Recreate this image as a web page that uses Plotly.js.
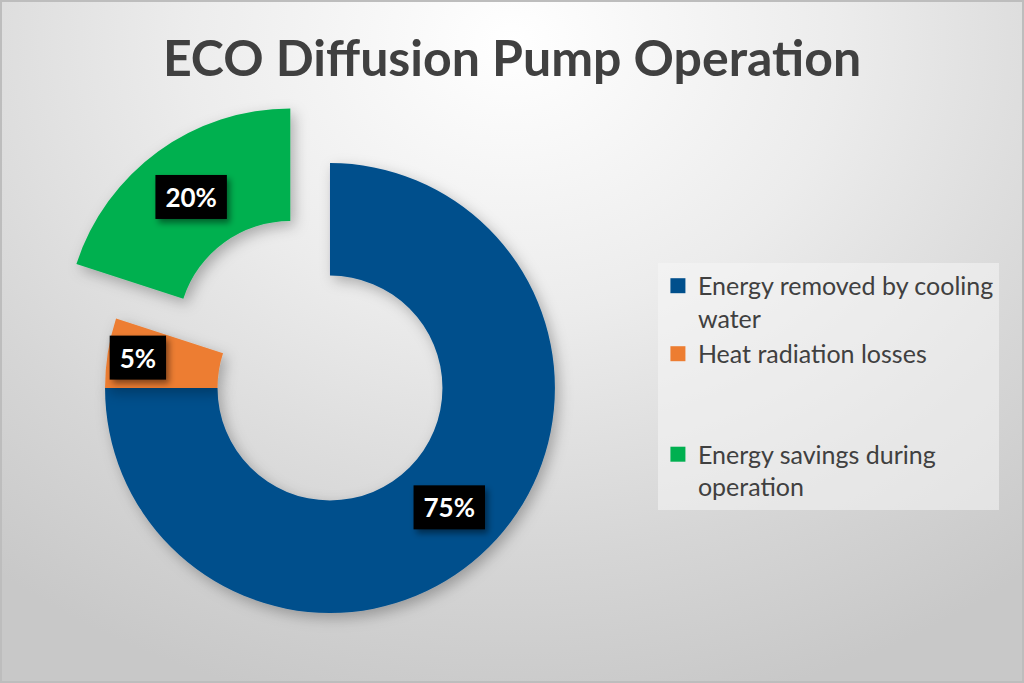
<!DOCTYPE html>
<html>
<head>
<meta charset="utf-8">
<script src="https://cdn.plot.ly/plotly-3.0.1.min.js"></script>
<style>
  html, body { margin: 0; padding: 0; }
  body {
    width: 1024px; height: 683px; overflow: hidden;
    background: radial-gradient(ellipse 80% 100% at 50% 6%, #ffffff 0%, #ececec 40%, #d6d6d6 75%, #c8c8c8 100%);
  }
  #frame {
    position: absolute; left: 0; top: 0; width: 1024px; height: 683px;
    box-shadow: inset 0 0 0 2px #bdbdbd;
    pointer-events: none;
  }
  #chart { width: 1024px; height: 683px; }
</style>
</head>
<body>
<div id="chart"></div>
<div id="frame"></div>
<script>
// ---- data ----
const chartTitle = "ECO Diffusion Pump Operation";
const categories = [
  "Energy removed by cooling<br>water",
  "Heat radiation losses<br> <br> ",
  "Energy savings during<br>operation"
];
const shares = [75, 5, 20];
const sliceColors = ["#004F8C", "#ED7D31", "#00B050"];
const pulls = [0, 0, 0.3];

const trace = {
  type: "pie",
  labels: categories,
  values: shares,
  sort: false,
  direction: "clockwise",
  rotation: 0,
  hole: 0.5,
  pull: pulls,
  marker: { colors: sliceColors, line: { width: 0 } },
  textinfo: "percent",
  textposition: "inside",
  insidetextorientation: "horizontal",
  insidetextfont: { family: "Lato", size: 26, color: "#ffffff", weight: "bold" },
  domain: { x: [0.0366, 0.6079], y: [0.0037, 0.860] },
  hoverinfo: "label+percent"
};

const layout = {
  width: 1024, height: 683,
  margin: { l: 0, r: 0, t: 0, b: 0 },
  paper_bgcolor: "rgba(0,0,0,0)",
  plot_bgcolor: "rgba(0,0,0,0)",
  title: {
    text: chartTitle,
    font: { family: "Lato", size: 50, color: "#404040", weight: "bold" },
    x: 0.5, xanchor: "center",
    y: 0.915, yanchor: "middle", yref: "container"
  },
  uniformtext: { mode: "show", minsize: 26 },
  showlegend: true,
  legend: {
    x: 0.6425, xanchor: "left",
    y: 0.615, yanchor: "top",
    bgcolor: "rgba(245,245,245,0.55)",
    borderwidth: 0,
    valign: "top",
    font: { family: "Lato", size: 25, color: "#404040" },
    traceorder: "normal"
  }
};

Plotly.newPlot("chart", [trace], layout, { displayModeBar: false, staticPlot: true }).then(function (gd) {
  const svgNS = "http://www.w3.org/2000/svg";
  const mainSvg = gd.querySelector("svg.main-svg");
  let defs = mainSvg.querySelector("defs");
  if (!defs) { defs = document.createElementNS(svgNS, "defs"); mainSvg.insertBefore(defs, mainSvg.firstChild); }

  function makeShadow(id, dx, dy, sd, op) {
    const f = document.createElementNS(svgNS, "filter");
    f.setAttribute("id", id);
    f.setAttribute("x", "-30%"); f.setAttribute("y", "-30%");
    f.setAttribute("width", "160%"); f.setAttribute("height", "160%");
    const ds = document.createElementNS(svgNS, "feDropShadow");
    ds.setAttribute("dx", dx); ds.setAttribute("dy", dy);
    ds.setAttribute("stdDeviation", sd);
    ds.setAttribute("flood-color", "#000"); ds.setAttribute("flood-opacity", op);
    f.appendChild(ds);
    defs.appendChild(f);
  }
  makeShadow("boxShadow", 3, 4, 3, 0.45);
  makeShadow("sliceShadow", 4, 5, 7, 0.28);

  gd.querySelectorAll("g.slice path.surface").forEach(function (p) {
    p.setAttribute("filter", "url(#sliceShadow)");
  });

  // black label boxes behind the library-placed percentage texts
  gd.querySelectorAll("g.slice").forEach(function (g) {
    const t = g.querySelector("text.slicetext");
    if (!t) return;
    const bb = t.getBBox();
    const padX = 10, padY = 6;
    const r = document.createElementNS(svgNS, "rect");
    r.setAttribute("x", bb.x - padX);
    r.setAttribute("y", bb.y - padY);
    r.setAttribute("width", bb.width + 2 * padX);
    r.setAttribute("height", bb.height + 2 * padY);
    r.setAttribute("fill", "#000000");
    r.setAttribute("filter", "url(#boxShadow)");
    const tr = t.getAttribute("transform");
    if (tr) r.setAttribute("transform", tr);
    t.parentNode.insertBefore(r, t);
  });

  // enlarge legend squares slightly
  gd.querySelectorAll(".legendpoints path").forEach(function (p) {
    const old = p.getAttribute("transform") || "";
    p.setAttribute("transform", old + " scale(1.25)");
  });
});
</script>
</body>
</html>
